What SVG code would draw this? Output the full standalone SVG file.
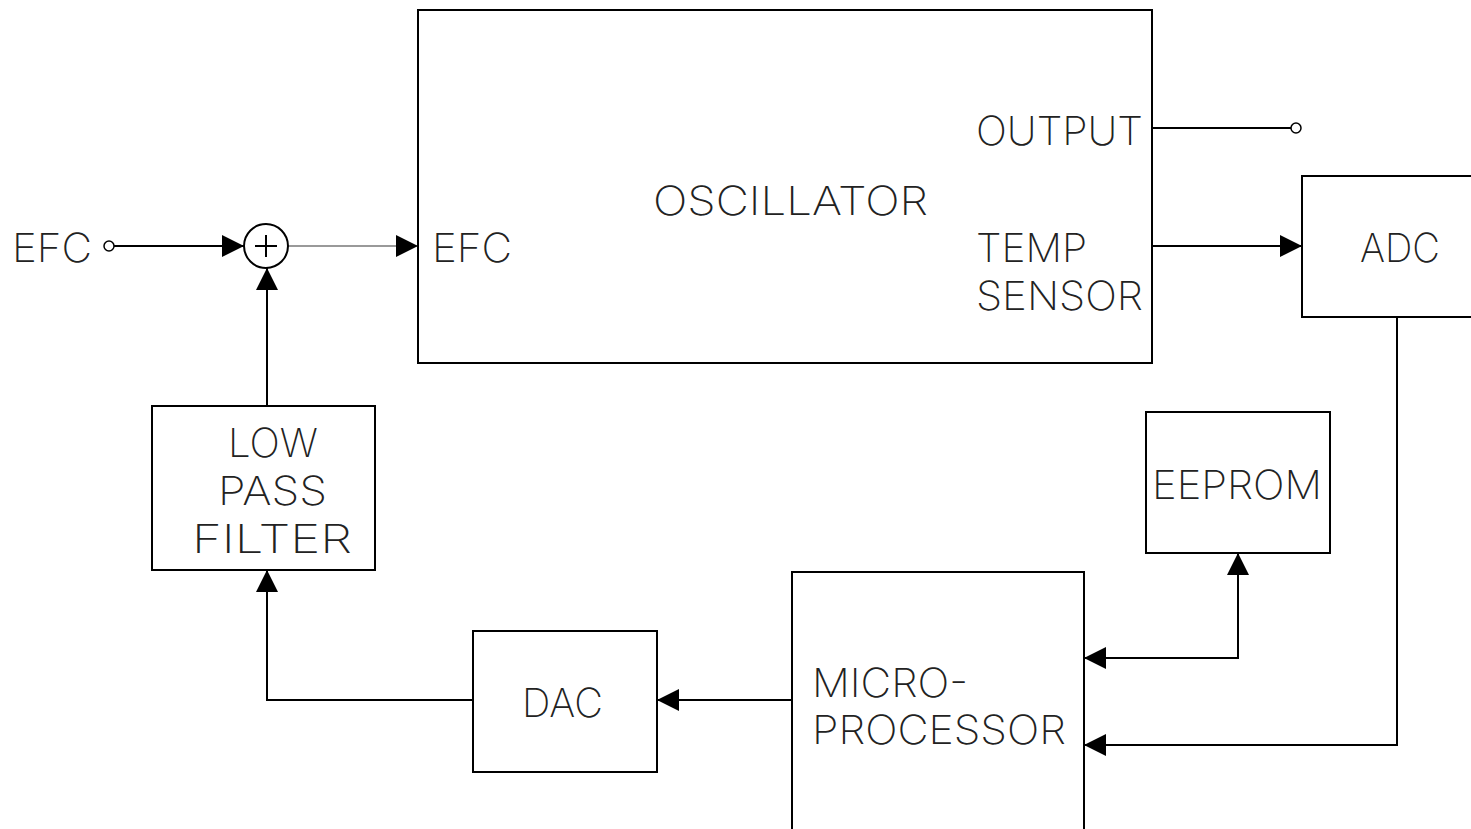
<svg xmlns="http://www.w3.org/2000/svg" width="1471" height="829" viewBox="0 0 1471 829">
<style>
.box{fill:#fff;stroke:#000;stroke-width:2}
.ln{fill:none;stroke:#000;stroke-width:2}
.t{font-family:"Inter","DejaVu Sans",sans-serif;font-weight:200;font-size:40px;fill:#222}
</style>
<defs>
<marker id="ah" markerUnits="userSpaceOnUse" markerWidth="24" markerHeight="22" refX="22" refY="11" orient="auto">
<path d="M0,0 L22,11 L0,22 Z" fill="#000"/>
</marker>
<marker id="ahs" markerUnits="userSpaceOnUse" markerWidth="24" markerHeight="22" refX="22" refY="11" orient="auto-start-reverse">
<path d="M0,0 L22,11 L0,22 Z" fill="#000"/>
</marker>
</defs>
<rect width="1471" height="829" fill="#fff"/>
<g id="connectors">
<line class="ln" x1="114" y1="246" x2="244" y2="246" marker-end="url(#ah)"/>
<line x1="288" y1="246" x2="418" y2="246" stroke="#999" stroke-width="2" marker-end="url(#ah)"/>
<line class="ln" x1="1152" y1="128" x2="1291" y2="128"/>
<line class="ln" x1="1152" y1="246" x2="1302" y2="246" marker-end="url(#ah)"/>
<polyline class="ln" points="1397,317 1397,745 1084,745" marker-end="url(#ah)"/>
<polyline class="ln" points="1238,553 1238,658 1084,658" marker-end="url(#ah)" marker-start="url(#ahs)"/>
<line class="ln" x1="792" y1="700" x2="657" y2="700" marker-end="url(#ah)"/>
<polyline class="ln" points="473,700 267,700 267,570" marker-end="url(#ah)"/>
<line class="ln" x1="267" y1="406" x2="267" y2="268" marker-end="url(#ah)"/>
</g>
<g id="efc-in">
<text class="t" x="12" y="262" textLength="80" lengthAdjust="spacingAndGlyphs">EFC</text>
<circle cx="109" cy="246" r="5" fill="#fff" stroke="#000" stroke-width="1.5"/>
</g>
<g id="sum">
<circle cx="266" cy="246" r="22" class="box"/>
<path d="M266,235 V257 M255,246 H277" class="ln" stroke-width="1.5"/>
</g>
<g id="oscillator">
<rect class="box" x="418" y="10" width="734" height="353"/>
<text class="t" x="432" y="262" textLength="80" lengthAdjust="spacingAndGlyphs">EFC</text>
<text class="t" x="653" y="215" textLength="275" lengthAdjust="spacingAndGlyphs">OSCILLATOR</text>
<text class="t" x="976" y="145" textLength="167" lengthAdjust="spacingAndGlyphs">OUTPUT</text>
<text class="t" x="976" y="262" textLength="111" lengthAdjust="spacingAndGlyphs">TEMP</text>
<text class="t" x="976" y="310" textLength="167" lengthAdjust="spacingAndGlyphs">SENSOR</text>
</g>
<g id="output">
<circle cx="1296" cy="128" r="5" fill="#fff" stroke="#000" stroke-width="1.5"/>
</g>
<g id="adc">
<rect class="box" x="1302" y="176" width="180" height="141"/>
<text class="t" x="1360" y="262" textLength="80" lengthAdjust="spacingAndGlyphs">ADC</text>
</g>
<g id="eeprom">
<rect class="box" x="1146" y="412" width="184" height="141"/>
<text class="t" x="1152" y="499" textLength="170" lengthAdjust="spacingAndGlyphs">EEPROM</text>
</g>
<g id="microprocessor">
<rect class="box" x="792" y="572" width="292" height="280"/>
<text class="t" x="812" y="697" textLength="156" lengthAdjust="spacingAndGlyphs">MICRO-</text>
<text class="t" x="812" y="744" textLength="254" lengthAdjust="spacingAndGlyphs">PROCESSOR</text>
</g>
<g id="dac">
<rect class="box" x="473" y="631" width="184" height="141"/>
<text class="t" x="522" y="717" textLength="81" lengthAdjust="spacingAndGlyphs">DAC</text>
</g>
<g id="lpf">
<rect class="box" x="152" y="406" width="223" height="164"/>
<text class="t" x="228" y="457" textLength="90" lengthAdjust="spacingAndGlyphs">LOW</text>
<text class="t" x="218" y="505" textLength="109" lengthAdjust="spacingAndGlyphs">PASS</text>
<text class="t" x="192" y="553" textLength="160" lengthAdjust="spacingAndGlyphs">FILTER</text>
</g>
</svg>
